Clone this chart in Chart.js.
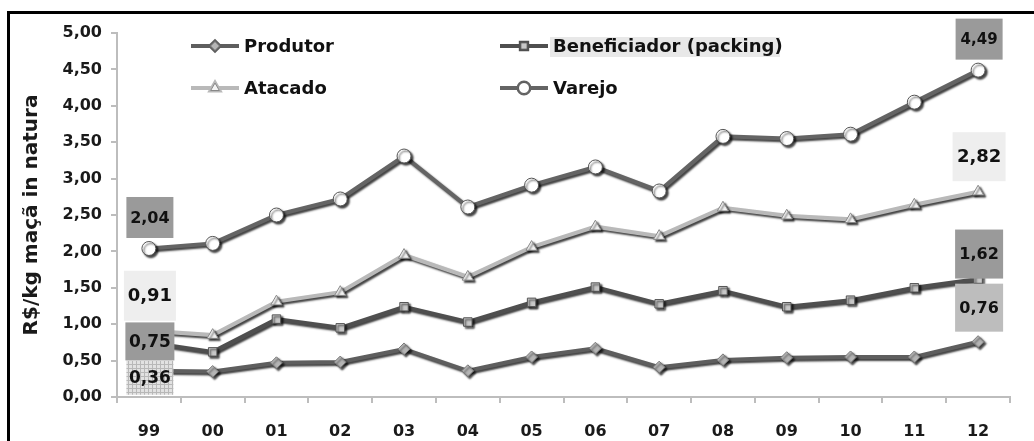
<!DOCTYPE html>
<html>
<head>
<meta charset="utf-8">
<script src="https://cdn.jsdelivr.net/npm/chart.js@4.4.0/dist/chart.umd.min.js"></script>
<style>
  html, body { margin: 0; padding: 0; background: #fff; }
  #wrap { position: relative; width: 1034px; height: 441px; overflow: hidden; }
  #frame { position: absolute; left: 7px; top: 11px; width: 1100px; height: 500px;
           border-left: 3px solid #000; border-top: 3px solid #000; }
  canvas { position: absolute; left: 0; top: 0; }
</style>
</head>
<body>
<div id="wrap">
  <div id="frame"></div>
  <canvas id="chart" width="1034" height="441"></canvas>
</div>
<script>
const years        = ['99','00','01','02','03','04','05','06','07','08','09','10','11','12'];
const produtor     = [0.36, 0.35, 0.47, 0.48, 0.66, 0.36, 0.55, 0.67, 0.41, 0.51, 0.54, 0.55, 0.55, 0.76];
const beneficiador = [0.75, 0.62, 1.07, 0.95, 1.24, 1.03, 1.30, 1.51, 1.28, 1.46, 1.24, 1.33, 1.50, 1.62];
const atacado      = [0.91, 0.85, 1.31, 1.44, 1.95, 1.65, 2.06, 2.34, 2.21, 2.60, 2.49, 2.44, 2.64, 2.82];
const varejo       = [2.04, 2.11, 2.50, 2.72, 3.31, 2.61, 2.91, 3.16, 2.83, 3.58, 3.55, 3.61, 4.05, 4.49];

const FONT = '"DejaVu Sans", Verdana, sans-serif';
const fmt = v => v.toFixed(2).replace('.', ',');

// hatched fill for the 0,36 box
function hatch() {
  const c = document.createElement('canvas');
  c.width = 4; c.height = 4;
  const g = c.getContext('2d');
  g.fillStyle = '#e2e2e2'; g.fillRect(0, 0, 4, 4);
  g.fillStyle = '#b8b8b8'; g.fillRect(0, 0, 4, 1); g.fillRect(0, 0, 1, 4);
  return g.createPattern(c, 'repeat');
}

// labels at first and last year: [dataset, index, dy, w, h, fill, fontSize]
const endLabels = [
  [3, 0, -31, 47, 41, '#9a9a9a', 16],
  [3, 13, -31, 47, 41, '#9a9a9a', 15],
  [2, 0, -35, 52, 50, '#eeeeee', 18],
  [2, 13, -35, 53, 49, '#eeeeee', 18],
  [1, 0, -1, 49, 38, '#9a9a9a', 17],
  [1, 13, -25, 48, 49, '#9a9a9a', 16],
  [0, 0, 7, 47, 34, 'hatch', 17],
  [0, 13, -34, 48, 48, '#bdbdbd', 16]
];

const shadowAndLabels = {
  id: 'shadowAndLabels',
  beforeDatasetsDraw(chart) {
    const ctx = chart.ctx;
    ctx.save();
    ctx.shadowColor = 'rgba(0,0,0,0.75)';
    ctx.shadowOffsetX = 2;
    ctx.shadowOffsetY = 2;
    ctx.shadowBlur = 2;
  },
  afterDatasetsDraw(chart) {
    const ctx = chart.ctx;
    ctx.restore();
    ctx.save();
    endLabels.forEach(([ds, i, dy, w, h, fill, size]) => {
      const pt = chart.getDatasetMeta(ds).data[i];
      const cx = pt.x + 1, cy = pt.y + dy;
      ctx.fillStyle = fill === 'hatch' ? hatch() : fill;
      ctx.fillRect(cx - w / 2, cy - h / 2, w, h);
      ctx.fillStyle = '#111';
      ctx.font = 'bold ' + size + 'px ' + FONT;
      ctx.textAlign = 'center';
      ctx.textBaseline = 'middle';
      ctx.fillText(fmt(chart.data.datasets[ds].data[i]), cx, cy + 1);
    });
    ctx.restore();
  }
};

// two-column legend inside the plot
const legendSlots = [
  { x: 191, y: 46 }, { x: 500, y: 46 }, { x: 191, y: 88 }, { x: 500, y: 88 }
];
const legendBoxes = {
  id: 'legendBoxes',
  afterDraw(chart) {
    const ctx = chart.ctx;
    ctx.save();
    chart.data.datasets.forEach((ds, k) => {
      const s = legendSlots[k];
      if (k === 1) {
        ctx.fillStyle = '#e8e8e8';
        ctx.fillRect(s.x + 50, s.y - 9, 230, 20);
      }
      ctx.strokeStyle = ds.borderColor;
      ctx.lineWidth = 4;
      ctx.beginPath(); ctx.moveTo(s.x, s.y); ctx.lineTo(s.x + 48, s.y); ctx.stroke();
      Chart.helpers.drawPoint(ctx, {
        pointStyle: ds.pointStyle, radius: ds.pointRadius - 1.5, rotation: 0,
        borderWidth: 1
      }, s.x + 24, s.y);
      ctx.fillStyle = ds.pointBackgroundColor;
      ctx.strokeStyle = ds.pointBorderColor;
      ctx.lineWidth = 1;
      ctx.fill(); ctx.stroke();
      ctx.fillStyle = '#111';
      ctx.font = 'bold 18px ' + FONT;
      ctx.textAlign = 'left';
      ctx.textBaseline = 'middle';
      ctx.fillText(ds.label, s.x + 53, s.y + 1);
    });
    ctx.restore();
  }
};

function series(label, data, line, style, radius, fill, border) {
  return {
    label, data,
    borderColor: line, borderWidth: 4,
    pointStyle: style, pointRadius: radius,
    pointBackgroundColor: fill, pointBorderColor: border, pointBorderWidth: 1,
    tension: 0, fill: false
  };
}

new Chart(document.getElementById('chart'), {
  type: 'line',
  data: {
    labels: years,
    datasets: [
      series('Produtor', produtor, '#5e5e5e', 'rectRot', 6, '#b5b5b5', '#777'),
      series('Beneficiador (packing)', beneficiador, '#4f4f4f', 'rect', 6, '#c8c8c8', '#555'),
      series('Atacado', atacado, '#b9b9b9', 'triangle', 6.5, '#f4f4f4', '#888'),
      series('Varejo', varejo, '#646464', 'circle', 7, '#ffffff', '#555')
    ]
  },
  options: {
    responsive: false,
    animation: false,
    layout: { padding: { top: 33, right: 24, bottom: 0, left: 0 } },
    plugins: { legend: { display: false }, tooltip: { enabled: false } },
    scales: {
      x: {
        offset: true,
        grid: { offset: true, drawOnChartArea: false, tickLength: 6, color: '#bdbdbd', lineWidth: 2 },
        border: { color: '#bdbdbd', width: 2 },
        ticks: { color: '#1a1a1a', padding: 19, font: { family: FONT, size: 16, weight: 'bold' } },
        afterFit: s => { s.height = 44; }
      },
      y: {
        min: 0, max: 5,
        grid: { drawOnChartArea: false, tickLength: 6, color: '#bdbdbd', lineWidth: 2 },
        border: { color: '#bdbdbd', width: 2 },
        ticks: {
          stepSize: 0.5, color: '#1a1a1a', padding: 9,
          font: { family: FONT, size: 16, weight: 'bold' },
          callback: v => fmt(v)
        },
        title: {
          display: true, text: 'R$/kg maçã in natura', color: '#1a1a1a',
          padding: { top: 20, bottom: 0 },
          font: { family: FONT, size: 20, weight: 'bold' }
        },
        afterFit: s => { s.width = 117; }
      }
    }
  },
  plugins: [shadowAndLabels, legendBoxes]
});
</script>
</body>
</html>
